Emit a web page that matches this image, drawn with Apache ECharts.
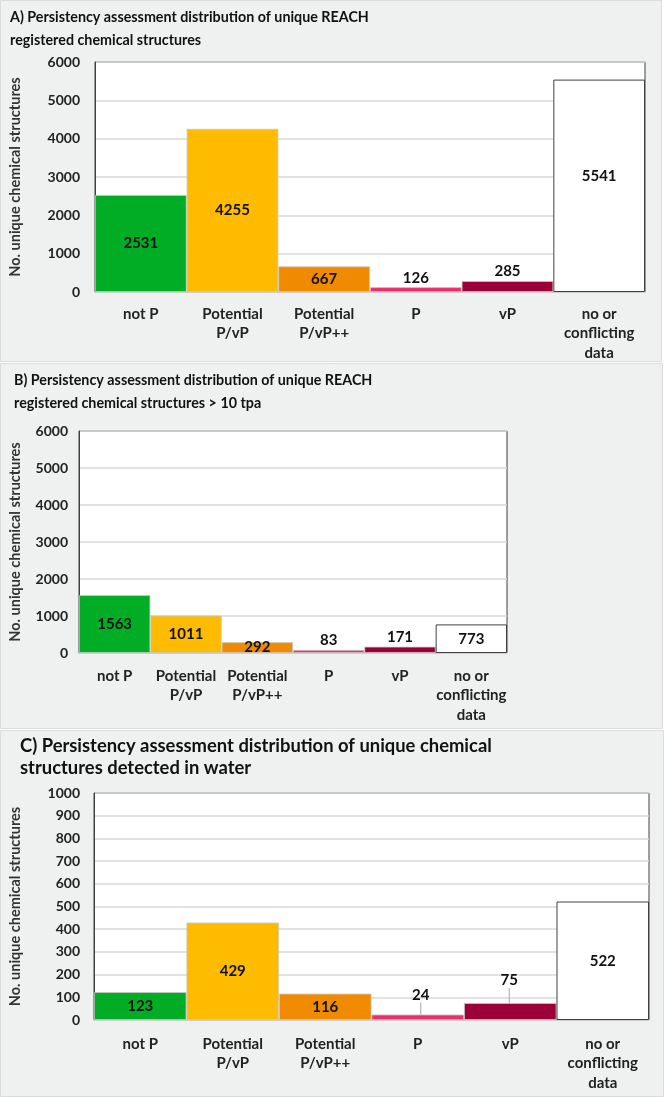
<!DOCTYPE html>
<html>
<head>
<meta charset="utf-8">
<script src="https://cdn.jsdelivr.net/npm/echarts@6/dist/echarts.min.js"></script>
<style>
html,body{margin:0;padding:0;background:#ffffff;}
#chart{width:666px;height:1098px;}
</style>
</head>
<body>
<div id="chart"></div>
<script>
// ---- data ----
var categories = ['not P', 'Potential\nP/vP', 'Potential\nP/vP++', 'P', 'vP', 'no or\nconflicting\ndata'];
var valuesA = [2531, 4255, 667, 126, 285, 5541];
var valuesB = [1563, 1011, 292, 83, 171, 773];
var valuesC = [123, 429, 116, 24, 75, 522];
var titleA = 'A) Persistency assessment distribution of unique REACH\nregistered chemical structures';
var titleB = 'B) Persistency assessment distribution of unique REACH\nregistered chemical structures > 10 tpa';
var titleC = 'C) Persistency assessment distribution of unique chemical\nstructures detected in water';
var yName = 'No. unique chemical structures';
var yTicksAB = [0, 1000, 2000, 3000, 4000, 5000, 6000];
var yTicksC = [0, 100, 200, 300, 400, 500, 600, 700, 800, 900, 1000];
var barColors = ['#00ad25', '#ffbb00', '#f08a00', '#f02c6c', '#9b0038', '#ffffff'];

var FONT = 'Lato';
var BG = '#eff0f0';

function makeData(vals, opts) {
  return vals.map(function (v, i) {
    var d = {
      value: v,
      itemStyle: {
        color: barColors[i],
        borderColor: i === 5 ? '#404040' : '#c8c8c8',
        borderWidth: i === 5 ? 1 : 0.8
      }
    };
    if (opts && opts.top && opts.top.indexOf(i) >= 0) {
      d.label = { position: 'top', distance: 2 };
    }
    if (opts && opts.offsets && opts.offsets[i]) {
      d.label = Object.assign(d.label || {}, { offset: opts.offsets[i] });
    }
    return d;
  });
}

function yAxis(gi, ticks, nameGap, labelMargin) {
  return {
    gridIndex: gi, type: 'value', min: ticks[0], max: ticks[ticks.length - 1], interval: ticks[1] - ticks[0],
    name: yName, nameLocation: 'middle', nameGap: nameGap, nameRotate: 90,
    nameTextStyle: { fontFamily: FONT, fontWeight: 'bold', fontSize: 14.5, color: '#333' },
    axisLine: { show: true, lineStyle: { color: '#404040', width: 1 } },
    axisTick: { show: false },
    axisLabel: { fontFamily: FONT, fontWeight: 'bold', fontSize: 14, color: '#222', margin: labelMargin,
      formatter: function (v) { return String(v); } },
    splitLine: { show: true, lineStyle: { color: '#d9d9d9', width: 1.5 } }
  };
}
function xAxis(gi, margin) {
  return {
    gridIndex: gi, type: 'category', data: categories,
    axisLine: { show: true, lineStyle: { color: '#cfcfcf', width: 1.5 } },
    axisTick: { show: false },
    axisLabel: { fontFamily: FONT, fontWeight: 'bold', fontSize: 15, color: '#222', margin: margin, lineHeight: 19.5, interval: 0 }
  };
}
function series(gi, data, extra) {
  var s = {
    type: 'bar', xAxisIndex: gi, yAxisIndex: gi, data: data,
    barWidth: '100%', barCategoryGap: 0,
    label: { show: true, position: 'inside', fontFamily: FONT, fontWeight: 'bold', fontSize: 15, color: '#111' }
  };
  return Object.assign(s, extra || {});
}

var chart = echarts.init(document.getElementById('chart'), null, { renderer: 'canvas' });
chart.setOption({
  backgroundColor: '#ffffff',
  animation: false,
  graphic: [
    { type: 'rect', shape: { x: 0.5, y: 0.5, width: 661, height: 361 }, style: { fill: BG, stroke: '#dcdcdc', lineWidth: 1 }, z: -10 },
    { type: 'rect', shape: { x: 0.5, y: 363.5, width: 662, height: 365 }, style: { fill: BG, stroke: '#dcdcdc', lineWidth: 1 }, z: -10 },
    { type: 'rect', shape: { x: 0.5, y: 730.5, width: 663, height: 366 }, style: { fill: BG, stroke: '#dcdcdc', lineWidth: 1 }, z: -10 }
  ],
  title: [
    { text: titleA, left: 10, top: 6, padding: 0, textStyle: { fontFamily: FONT, fontWeight: 'bold', fontSize: 14.3, color: '#111', lineHeight: 23 } },
    { text: titleB, left: 14, top: 369, padding: 0, textStyle: { fontFamily: FONT, fontWeight: 'bold', fontSize: 14.3, color: '#111', lineHeight: 23 } },
    { text: titleC, left: 20, top: 735, padding: 0, textStyle: { fontFamily: FONT, fontWeight: 'bold', fontSize: 18.4, color: '#111', lineHeight: 22 } }
  ],
  grid: [
    { left: 88, top: 62, width: 557, height: 230, show: true, backgroundColor: '#ffffff', borderColor: '#404040', borderWidth: 1 },
    { left: 69, top: 431, width: 438, height: 222, show: true, backgroundColor: '#ffffff', borderColor: '#404040', borderWidth: 1 },
    { left: 93, top: 793, width: 556, height: 227, show: true, backgroundColor: '#ffffff', borderColor: '#404040', borderWidth: 1 }
  ],
  xAxis: [xAxis(0, 12), xAxis(1, 13), xAxis(2, 14)],
  yAxis: [
    yAxis(0, yTicksAB, 72, 15),
    yAxis(1, yTicksAB, 56, 11),
    yAxis(2, yTicksC, 71, 14)
  ],
  series: [
    series(0, makeData(valuesA, { top: [3, 4], offsets: { 5: [0, -10] } })),
    series(1, makeData(valuesB, { top: [3, 4] })),
    series(2, makeData(valuesC, { top: [3, 4] }), {
      labelLine: { show: true, length2: 0, smooth: false, lineStyle: { color: '#a6a6a6', width: 1 } },
      labelLayout: function (p) {
        if (p.dataIndex === 3) return { dy: -10, dx: 3 };
        if (p.dataIndex === 4) return { dy: -13, dx: -1 };
        return {};
      }
    })
  ]
});
</script>
</body>
</html>
